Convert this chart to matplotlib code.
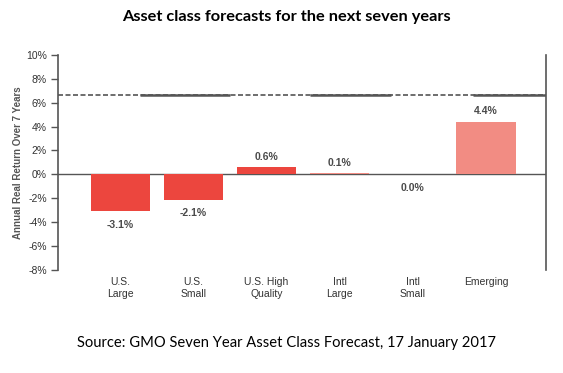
import numpy as np
import matplotlib.pyplot as plt

# data
categories = ['U.S.\nLarge', 'U.S.\nSmall', 'U.S. High\nQuality', 'Intl\nLarge', 'Intl\nSmall', 'Emerging']
values = [-3.1, -2.1, 0.6, 0.1, 0.0, 4.4]
colors = ['#EC463E', '#EC463E', '#EC463E', '#F28C83', '#F28C83', '#F28C83']
ref_level = 6.6
yticks = [-8, -6, -4, -2, 0, 2, 4, 6, 8, 10]

grey = '#555555'
txt = '#4a4a4a'

fig = plt.figure(figsize=(5.63, 3.73), dpi=100)
ax = fig.add_axes([0.103, 0.276, 0.867, 0.577])

x = np.arange(len(categories))
ax.bar(x, values, width=0.81, color=colors, zorder=2)

ax.set_xlim(-0.85, 5.82)
ax.set_ylim(-8, 10)

# zero line and reference line (partly dashed, partly solid)
ax.axhline(0, color=grey, lw=1.0, zorder=1)
ax.axhline(ref_level, color=grey, lw=1.2, ls=(0, (3, 1.5)), zorder=1)
for a, b in [(0.27, 1.5), (2.6, 3.7), (4.82, 5.82)]:
    ax.plot([a, b], [ref_level, ref_level], color=grey, lw=1.8, zorder=1,
            solid_capstyle='butt')

for xi, v in zip(x, values):
    if v > 0:
        ax.text(xi, v + 0.45, f'{v:.1f}%', ha='center', va='bottom',
                fontsize=7.5, fontweight='bold', color=txt, family='Liberation Sans')
    else:
        ax.text(xi, v - 0.7, f'{v:.1f}%', ha='center', va='top',
                fontsize=7.5, fontweight='bold', color=txt, family='Liberation Sans')

ax.set_yticks(yticks)
ax.set_yticklabels([f'{t}%' for t in yticks], fontsize=7.5, color='#333333',
                   family='Liberation Sans')
ax.set_xticks(x)
ax.set_xticklabels(categories, fontsize=7.5, color='#333333', family='Liberation Sans',
                   linespacing=1.2)
ax.tick_params(axis='x', length=0, pad=5)
ax.tick_params(axis='y', length=5, width=1, color=grey, pad=3)

for s in ['top', 'bottom']:
    ax.spines[s].set_visible(False)
for s in ['left', 'right']:
    ax.spines[s].set_color(grey)
    ax.spines[s].set_linewidth(1.2)

ax.set_ylabel('Annual Real Return Over 7 Years', fontsize=7, fontweight='bold',
              color=grey, family='Liberation Sans', labelpad=2)

fig.text(0.508, 0.955, 'Asset class forecasts for the next seven years', ha='center',
         va='center', fontsize=11.8, fontweight='bold', family='Lato')
fig.text(0.508, 0.08, 'Source: GMO Seven Year Asset Class Forecast, 17 January 2017',
         ha='center', va='center', fontsize=10.6, family='Lato')

fig.savefig('out.png', dpi=100)
